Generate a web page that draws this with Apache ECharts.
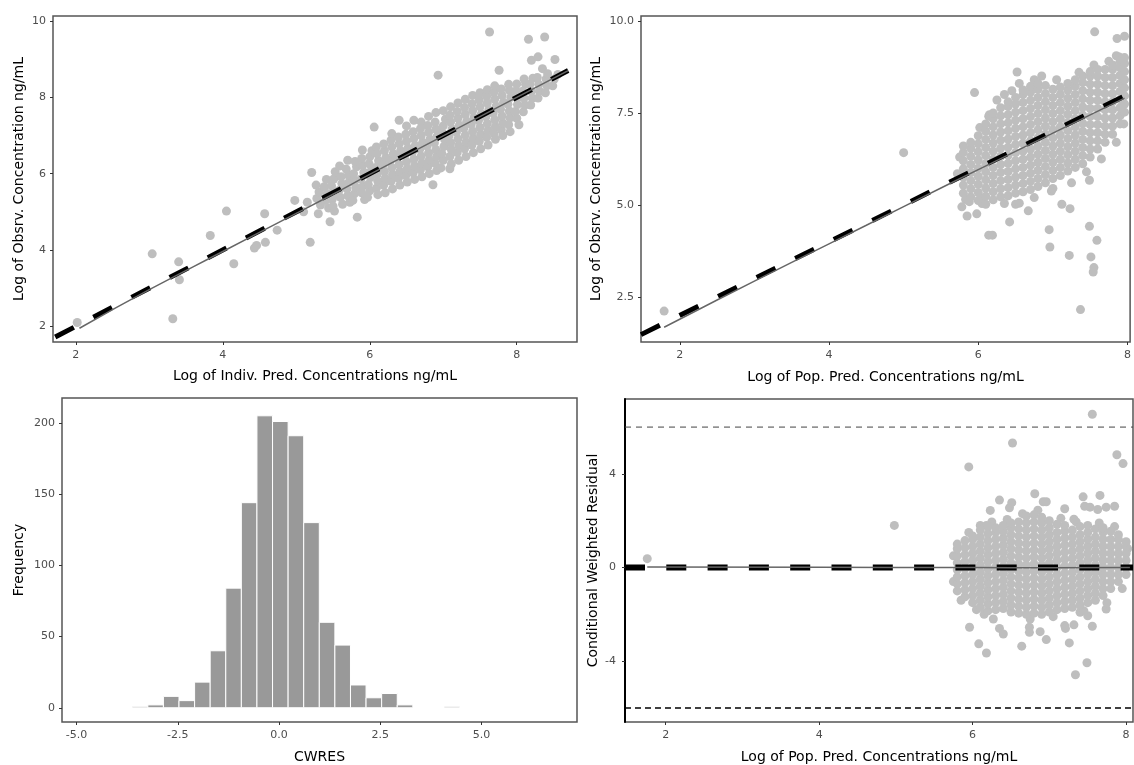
<!DOCTYPE html>
<html><head><meta charset="utf-8">
<script src="https://cdn.jsdelivr.net/npm/echarts@6/dist/echarts.min.js"></script>
<style>html,body{margin:0;padding:0;background:#fff}#c{width:1134px;height:765px}</style>
</head><body><div id="c"></div>
<script>
// ---------- DATA ----------
// Panel 1: IPRED (x) vs observed DV (y)
const ipredDv = [
[2.02,2.1],[3.04,3.9],[3.32,2.2],[3.4,3.69],[3.41,3.22],[3.83,4.38],[4.05,5.02],[4.15,3.64],[4.43,4.05],[4.46,4.12],[4.57,4.95],[4.58,4.2],[4.74,4.52],[4.98,5.3],[5.1,5.0],[5.15,5.25],[5.19,4.2],[5.21,6.03],[5.46,4.74],[5.52,5.02],[5.83,4.86],[6.06,7.22],[6.4,7.4],[6.86,5.71],[6.93,8.58],[7.09,6.13],[7.63,9.71],[7.76,8.71],[8.16,9.52],[8.38,9.58],[8.2,8.97],[8.29,9.06],[8.52,8.99],[8.35,8.75],
[5.28,5.35],[5.31,5.52],[5.27,5.7],[5.33,5.18],[5.3,4.95],
[5.4,5.3],[5.42,5.48],[5.38,5.66],[5.41,5.85],[5.44,5.1],
[5.49,5.33],[5.52,5.5],[5.48,5.68],[5.51,5.86],[5.53,6.05],[5.5,5.15],
[5.6,5.38],[5.58,5.56],[5.62,5.74],[5.61,5.92],[5.59,6.2],[5.63,5.2],
[5.7,5.42],[5.69,5.6],[5.72,5.78],[5.71,5.96],[5.68,6.12],[5.73,5.25],[5.7,6.35],
[5.79,5.47],[5.81,5.64],[5.8,5.82],[5.78,6.0],[5.82,6.18],[5.8,6.32],[5.77,5.3],
[5.89,5.5],[5.91,5.68],[5.88,5.86],[5.92,6.04],[5.9,6.22],[5.89,6.4],[5.93,5.32],[5.9,6.62],
[6.0,5.55],[5.98,5.72],[6.01,5.9],[6.02,6.08],[5.99,6.26],[6.0,6.44],[6.03,6.6],[5.97,5.38],
[6.09,5.62],[6.11,5.8],[6.1,5.98],[6.08,6.16],[6.12,6.34],[6.1,6.52],[6.09,6.7],[6.11,5.45],
[6.19,5.7],[6.21,5.88],[6.2,6.06],[6.18,6.24],[6.22,6.42],[6.2,6.6],[6.19,6.78],[6.21,5.5],
[6.29,5.8],[6.31,5.98],[6.3,6.16],[6.28,6.34],[6.32,6.52],[6.3,6.7],[6.29,6.88],[6.31,5.6],[6.3,7.05],
[6.39,5.88],[6.41,6.06],[6.4,6.24],[6.38,6.42],[6.42,6.6],[6.4,6.78],[6.39,6.96],[6.41,5.7],
[6.49,5.95],[6.51,6.13],[6.5,6.31],[6.48,6.49],[6.52,6.67],[6.5,6.85],[6.49,7.03],[6.51,5.78],[6.5,7.25],
[6.59,6.02],[6.61,6.2],[6.6,6.38],[6.58,6.56],[6.62,6.74],[6.6,6.92],[6.59,7.1],[6.61,5.85],[6.6,7.4],
[6.69,6.1],[6.71,6.28],[6.7,6.46],[6.68,6.64],[6.72,6.82],[6.7,7.0],[6.69,7.18],[6.71,5.92],[6.7,7.35],
[6.79,6.18],[6.81,6.36],[6.8,6.54],[6.78,6.72],[6.82,6.9],[6.8,7.08],[6.79,7.26],[6.81,6.0],[6.8,7.5],
[6.89,6.27],[6.91,6.45],[6.9,6.63],[6.88,6.81],[6.92,6.99],[6.9,7.17],[6.89,7.35],[6.91,6.08],[6.9,7.6],
[7.0,6.35],[6.98,6.53],[7.01,6.71],[7.02,6.89],[6.99,7.07],[7.0,7.25],[7.03,7.43],[6.97,6.15],[7.0,7.65],
[7.09,6.45],[7.11,6.63],[7.1,6.81],[7.08,6.99],[7.12,7.17],[7.1,7.35],[7.09,7.53],[7.11,6.25],[7.1,7.75],
[7.19,6.55],[7.21,6.73],[7.2,6.91],[7.18,7.09],[7.22,7.27],[7.2,7.45],[7.19,7.63],[7.21,6.35],[7.2,7.85],
[7.29,6.65],[7.31,6.83],[7.3,7.01],[7.28,7.19],[7.32,7.37],[7.3,7.55],[7.29,7.73],[7.31,6.45],[7.3,7.95],
[7.39,6.75],[7.41,6.93],[7.4,7.11],[7.38,7.29],[7.42,7.47],[7.4,7.65],[7.39,7.83],[7.41,6.55],[7.4,8.05],
[7.49,6.85],[7.51,7.03],[7.5,7.21],[7.48,7.39],[7.52,7.57],[7.5,7.75],[7.49,7.93],[7.51,6.65],[7.5,8.12],
[7.59,6.95],[7.61,7.13],[7.6,7.31],[7.58,7.49],[7.62,7.67],[7.6,7.85],[7.59,8.03],[7.61,6.75],[7.6,8.2],
[7.69,7.05],[7.71,7.23],[7.7,7.41],[7.68,7.59],[7.72,7.77],[7.7,7.95],[7.69,8.13],[7.71,6.9],[7.7,8.3],
[7.79,7.15],[7.81,7.33],[7.8,7.51],[7.78,7.69],[7.82,7.87],[7.8,8.05],[7.79,8.22],[7.81,7.0],
[7.89,7.28],[7.91,7.46],[7.9,7.64],[7.88,7.82],[7.92,8.0],[7.9,8.18],[7.89,8.34],[7.91,7.1],
[8.0,7.45],[7.98,7.63],[8.01,7.81],[8.02,7.99],[7.99,8.17],[8.0,8.35],[8.03,7.28],
[8.09,7.62],[8.11,7.8],[8.1,7.98],[8.08,8.16],[8.12,8.34],[8.1,8.48],
[8.19,7.8],[8.21,7.98],[8.2,8.16],[8.18,8.34],[8.22,8.5],
[8.29,7.98],[8.31,8.16],[8.3,8.34],[8.28,8.52],
[8.39,8.12],[8.41,8.3],[8.4,8.48],[8.42,8.62],
[8.49,8.3],[8.51,8.48],[8.56,8.6]
];

// Panel 2: PRED (x) vs observed DV (y)
const predDv = [
[1.79,2.12],[5.0,6.42],[5.95,8.05],[6.52,8.61],[6.14,7.41],[7.56,9.7],[7.86,9.52],[7.96,9.58],[7.89,9.02],
[7.37,2.16],[7.54,3.18],[7.55,3.3],[7.51,3.59],[7.59,4.04],[7.49,4.42],[7.22,3.63],[6.96,3.86],[6.95,4.33],
[6.42,4.54],[6.14,4.18],[6.19,4.18],[6.67,4.84],[6.5,5.02],[6.35,5.04],[7.12,5.02],[7.23,4.9],[7.49,5.67],
[6.98,5.38],[5.83,5.15],[5.88,5.09],[5.98,4.76],[6.05,5.04],[6.05,5.17],
[5.72,5.85],[5.75,6.3],[5.78,4.95],[5.85,4.7],[6.02,7.1],[6.15,7.45],[6.25,7.85],[6.35,8.0],[6.45,8.1],
[6.55,8.3],[6.75,8.4],[6.85,8.5],[7.05,8.4],[7.35,8.6],[7.55,8.8],[7.75,8.9],[7.85,9.05],[6.55,5.05],
[6.75,5.2],[7.0,5.45],[7.25,5.6],[7.45,5.9],[7.65,6.25],[7.85,6.7],[7.95,7.2],
[5.8,5.32],[5.8,5.54],[5.8,5.76],[5.8,5.98],[5.8,6.2],[5.8,6.42],[5.8,6.6],
[5.9,5.22],[5.9,5.44],[5.9,5.66],[5.9,5.88],[5.9,6.1],[5.9,6.32],[5.9,6.54],[5.9,6.7],
[6.0,5.12],[6.0,5.34],[6.0,5.56],[6.0,5.78],[6.0,6.0],[6.0,6.22],[6.0,6.44],[6.0,6.66],[6.0,6.88],
[6.1,5.02],[6.1,5.24],[6.1,5.46],[6.1,5.68],[6.1,5.9],[6.1,6.12],[6.1,6.34],[6.1,6.56],[6.1,6.78],[6.1,7.0],[6.1,7.2],
[6.2,5.14],[6.2,5.36],[6.2,5.58],[6.2,5.8],[6.2,6.02],[6.2,6.24],[6.2,6.46],[6.2,6.68],[6.2,6.9],[6.2,7.12],[6.2,7.34],[6.2,7.5],
[6.3,5.22],[6.3,5.44],[6.3,5.66],[6.3,5.88],[6.3,6.1],[6.3,6.32],[6.3,6.54],[6.3,6.76],[6.3,6.98],[6.3,7.2],[6.3,7.42],[6.3,7.64],
[6.4,5.25],[6.4,5.47],[6.4,5.69],[6.4,5.91],[6.4,6.13],[6.4,6.35],[6.4,6.57],[6.4,6.79],[6.4,7.01],[6.4,7.23],[6.4,7.45],[6.4,7.67],[6.4,7.8],
[6.5,5.32],[6.5,5.54],[6.5,5.76],[6.5,5.98],[6.5,6.2],[6.5,6.42],[6.5,6.64],[6.5,6.86],[6.5,7.08],[6.5,7.3],[6.5,7.52],[6.5,7.74],[6.5,7.92],
[6.6,5.36],[6.6,5.58],[6.6,5.8],[6.6,6.02],[6.6,6.24],[6.6,6.46],[6.6,6.68],[6.6,6.9],[6.6,7.12],[6.6,7.34],[6.6,7.56],[6.6,7.78],[6.6,8.0],[6.6,8.12],
[6.7,5.42],[6.7,5.64],[6.7,5.86],[6.7,6.08],[6.7,6.3],[6.7,6.52],[6.7,6.74],[6.7,6.96],[6.7,7.18],[6.7,7.4],[6.7,7.62],[6.7,7.84],[6.7,8.06],[6.7,8.22],
[6.8,5.5],[6.8,5.72],[6.8,5.94],[6.8,6.16],[6.8,6.38],[6.8,6.6],[6.8,6.82],[6.8,7.04],[6.8,7.26],[6.8,7.48],[6.8,7.7],[6.8,7.92],[6.8,8.14],[6.8,8.3],
[6.9,5.6],[6.9,5.82],[6.9,6.04],[6.9,6.26],[6.9,6.48],[6.9,6.7],[6.9,6.92],[6.9,7.14],[6.9,7.36],[6.9,7.58],[6.9,7.8],[6.9,8.02],[6.9,8.24],
[7.0,5.72],[7.0,5.94],[7.0,6.16],[7.0,6.38],[7.0,6.6],[7.0,6.82],[7.0,7.04],[7.0,7.26],[7.0,7.48],[7.0,7.7],[7.0,7.92],[7.0,8.14],
[7.1,5.8],[7.1,6.02],[7.1,6.24],[7.1,6.46],[7.1,6.68],[7.1,6.9],[7.1,7.12],[7.1,7.34],[7.1,7.56],[7.1,7.78],[7.1,8.0],[7.1,8.2],
[7.2,5.92],[7.2,6.14],[7.2,6.36],[7.2,6.58],[7.2,6.8],[7.2,7.02],[7.2,7.24],[7.2,7.46],[7.2,7.68],[7.2,7.9],[7.2,8.12],[7.2,8.3],
[7.3,6.02],[7.3,6.24],[7.3,6.46],[7.3,6.68],[7.3,6.9],[7.3,7.12],[7.3,7.34],[7.3,7.56],[7.3,7.78],[7.3,8.0],[7.3,8.22],[7.3,8.4],
[7.4,6.12],[7.4,6.34],[7.4,6.56],[7.4,6.78],[7.4,7.0],[7.4,7.22],[7.4,7.44],[7.4,7.66],[7.4,7.88],[7.4,8.1],[7.4,8.32],[7.4,8.5],
[7.5,6.3],[7.5,6.52],[7.5,6.74],[7.5,6.96],[7.5,7.18],[7.5,7.4],[7.5,7.62],[7.5,7.84],[7.5,8.06],[7.5,8.28],[7.5,8.5],[7.5,8.62],
[7.6,6.52],[7.6,6.74],[7.6,6.96],[7.6,7.18],[7.6,7.4],[7.6,7.62],[7.6,7.84],[7.6,8.06],[7.6,8.28],[7.6,8.5],[7.6,8.68],
[7.7,6.7],[7.7,6.92],[7.7,7.14],[7.7,7.36],[7.7,7.58],[7.7,7.8],[7.7,8.02],[7.7,8.24],[7.7,8.46],[7.7,8.68],
[7.8,6.92],[7.8,7.14],[7.8,7.36],[7.8,7.58],[7.8,7.8],[7.8,8.02],[7.8,8.24],[7.8,8.46],[7.8,8.68],[7.8,8.8],
[7.9,7.2],[7.9,7.42],[7.9,7.64],[7.9,7.86],[7.9,8.08],[7.9,8.3],[7.9,8.52],[7.9,8.74],[7.9,8.9],
[7.96,7.52],[7.96,7.74],[7.96,7.96],[7.96,8.18],[7.96,8.4],[7.96,8.62],[7.96,8.84],[7.96,9.0]
];

// Panel 3: CWRES histogram (bin lower edges, counts)
const histEdges = [-3.625,-3.24,-2.855,-2.47,-2.085,-1.7,-1.315,-0.93,-0.545,-0.16,0.225,0.61,0.995,1.38,1.765,2.15,2.535,2.92,3.305,3.69,4.075];
const histCounts = [1,2,8,5,18,40,84,144,205,201,191,130,60,44,16,7,10,2,0,0,1];
const histBinWidth = 0.385;

// Panel 4: PRED (x) vs CWRES (y)
const predCwres = [
[1.76,0.38],[4.98,1.8],[5.95,4.3],[6.52,5.32],[7.56,6.55],[7.88,4.82],[7.96,4.44],[6.35,2.88],[6.48,2.55],[6.51,2.77],
[6.23,2.44],[6.81,3.15],[6.92,2.81],[6.96,2.81],[7.2,2.51],[7.32,2.06],[7.44,3.02],[7.66,3.08],[7.46,2.62],[7.53,2.58],
[7.74,2.58],[7.85,2.62],[7.63,2.48],[6.1,1.8],[6.18,1.8],[5.96,-2.55],[6.08,-3.26],[6.18,-3.65],[6.27,-2.2],[6.35,-2.6],
[6.4,-2.84],[6.64,-3.36],[6.74,-2.55],[6.74,-2.77],[6.88,-2.74],[6.96,-3.08],[7.2,-2.48],[7.32,-2.45],[7.21,-2.6],[7.26,-3.22],
[7.49,-4.07],[7.34,-4.58],[7.56,-2.51],[7.74,-1.77],[7.4,-1.91],[7.5,-2.06],
[5.75,0.5],[5.75,-0.6],[5.85,-1.4],[5.95,1.5],[6.05,-1.8],[6.15,-2.0],[6.25,1.95],[6.45,2.05],[6.65,2.3],[6.75,-2.2],
[6.85,2.45],[7.05,-2.1],[7.15,2.1],[7.35,1.95],[7.45,-1.85],[7.65,1.9],[7.75,-1.5],[7.85,1.75],[7.95,-0.9],[8.02,0.8],
[5.8,-1.0],[5.8,-0.7],[5.8,-0.4],[5.8,-0.1],[5.8,0.2],[5.8,0.5],[5.8,0.8],[5.8,1.0],
[5.9,-1.25],[5.9,-0.95],[5.9,-0.65],[5.9,-0.35],[5.9,-0.05],[5.9,0.25],[5.9,0.55],[5.9,0.85],[5.9,1.15],
[6.0,-1.5],[6.0,-1.2],[6.0,-0.9],[6.0,-0.6],[6.0,-0.3],[6.0,0.0],[6.0,0.3],[6.0,0.6],[6.0,0.9],[6.0,1.2],[6.0,1.35],
[6.1,-1.7],[6.1,-1.4],[6.1,-1.1],[6.1,-0.8],[6.1,-0.5],[6.1,-0.2],[6.1,0.1],[6.1,0.4],[6.1,0.7],[6.1,1.0],[6.1,1.3],[6.1,1.6],
[6.2,-1.85],[6.2,-1.55],[6.2,-1.25],[6.2,-0.95],[6.2,-0.65],[6.2,-0.35],[6.2,-0.05],[6.2,0.25],[6.2,0.55],[6.2,0.85],[6.2,1.15],[6.2,1.45],[6.2,1.75],
[6.3,-1.8],[6.3,-1.5],[6.3,-1.2],[6.3,-0.9],[6.3,-0.6],[6.3,-0.3],[6.3,0.0],[6.3,0.3],[6.3,0.6],[6.3,0.9],[6.3,1.2],[6.3,1.5],[6.3,1.7],
[6.4,-1.75],[6.4,-1.45],[6.4,-1.15],[6.4,-0.85],[6.4,-0.55],[6.4,-0.25],[6.4,0.05],[6.4,0.35],[6.4,0.65],[6.4,0.95],[6.4,1.25],[6.4,1.55],[6.4,1.8],
[6.5,-1.9],[6.5,-1.6],[6.5,-1.3],[6.5,-1.0],[6.5,-0.7],[6.5,-0.4],[6.5,-0.1],[6.5,0.2],[6.5,0.5],[6.5,0.8],[6.5,1.1],[6.5,1.4],[6.5,1.7],[6.5,1.9],
[6.6,-1.95],[6.6,-1.65],[6.6,-1.35],[6.6,-1.05],[6.6,-0.75],[6.6,-0.45],[6.6,-0.15],[6.6,0.15],[6.6,0.45],[6.6,0.75],[6.6,1.05],[6.6,1.35],[6.6,1.65],[6.6,1.95],
[6.7,-2.0],[6.7,-1.7],[6.7,-1.4],[6.7,-1.1],[6.7,-0.8],[6.7,-0.5],[6.7,-0.2],[6.7,0.1],[6.7,0.4],[6.7,0.7],[6.7,1.0],[6.7,1.3],[6.7,1.6],[6.7,1.9],[6.7,2.2],
[6.8,-1.95],[6.8,-1.65],[6.8,-1.35],[6.8,-1.05],[6.8,-0.75],[6.8,-0.45],[6.8,-0.15],[6.8,0.15],[6.8,0.45],[6.8,0.75],[6.8,1.05],[6.8,1.35],[6.8,1.65],[6.8,1.95],[6.8,2.25],
[6.9,-2.0],[6.9,-1.7],[6.9,-1.4],[6.9,-1.1],[6.9,-0.8],[6.9,-0.5],[6.9,-0.2],[6.9,0.1],[6.9,0.4],[6.9,0.7],[6.9,1.0],[6.9,1.3],[6.9,1.6],[6.9,1.9],[6.9,2.15],
[7.0,-1.9],[7.0,-1.6],[7.0,-1.3],[7.0,-1.0],[7.0,-0.7],[7.0,-0.4],[7.0,-0.1],[7.0,0.2],[7.0,0.5],[7.0,0.8],[7.0,1.1],[7.0,1.4],[7.0,1.7],[7.0,2.0],
[7.1,-1.8],[7.1,-1.5],[7.1,-1.2],[7.1,-0.9],[7.1,-0.6],[7.1,-0.3],[7.1,0.0],[7.1,0.3],[7.1,0.6],[7.1,0.9],[7.1,1.2],[7.1,1.5],[7.1,1.85],
[7.2,-1.75],[7.2,-1.45],[7.2,-1.15],[7.2,-0.85],[7.2,-0.55],[7.2,-0.25],[7.2,0.05],[7.2,0.35],[7.2,0.65],[7.2,0.95],[7.2,1.25],[7.2,1.55],[7.2,1.8],
[7.3,-1.7],[7.3,-1.4],[7.3,-1.1],[7.3,-0.8],[7.3,-0.5],[7.3,-0.2],[7.3,0.1],[7.3,0.4],[7.3,0.7],[7.3,1.0],[7.3,1.3],[7.3,1.6],
[7.4,-1.6],[7.4,-1.3],[7.4,-1.0],[7.4,-0.7],[7.4,-0.4],[7.4,-0.1],[7.4,0.2],[7.4,0.5],[7.4,0.8],[7.4,1.1],[7.4,1.4],[7.4,1.75],
[7.5,-1.5],[7.5,-1.2],[7.5,-0.9],[7.5,-0.6],[7.5,-0.3],[7.5,0.0],[7.5,0.3],[7.5,0.6],[7.5,0.9],[7.5,1.2],[7.5,1.5],[7.5,1.8],
[7.6,-1.4],[7.6,-1.1],[7.6,-0.8],[7.6,-0.5],[7.6,-0.2],[7.6,0.1],[7.6,0.4],[7.6,0.7],[7.6,1.0],[7.6,1.3],[7.6,1.65],
[7.7,-1.2],[7.7,-0.9],[7.7,-0.6],[7.7,-0.3],[7.7,0.0],[7.7,0.3],[7.7,0.6],[7.7,0.9],[7.7,1.2],[7.7,1.5],[7.7,1.7],
[7.8,-0.9],[7.8,-0.6],[7.8,-0.3],[7.8,0.0],[7.8,0.3],[7.8,0.6],[7.8,0.9],[7.8,1.2],[7.8,1.55],
[7.9,-0.6],[7.9,-0.3],[7.9,0.0],[7.9,0.3],[7.9,0.6],[7.9,0.9],[7.9,1.2],[7.9,1.4],
[8.0,-0.3],[8.0,0.0],[8.0,0.3],[8.0,0.6],[8.0,0.9],[8.0,1.1]
];

// reference / smooth lines
const identity1 = [[1.72,1.72],[8.7,8.7]];
const smooth1 = [[2.05,1.95],[3.0,2.96],[4.0,3.96],[5.0,4.96],[5.5,5.46],[6.0,5.98],[7.0,6.99],[8.0,8.0],[8.7,8.7]];
const identity2 = [[1.48,1.48],[7.96,7.96]];
const smooth2 = [[1.79,1.68],[2.5,2.42],[3.5,3.44],[4.5,4.45],[5.5,5.46],[6.0,5.96],[7.0,6.95],[7.96,7.9]];
const zeroLine4 = [[1.47,0],[8.09,0]];
const smooth4 = [[1.76,0.02],[4.0,0.01],[6.0,0.0],[7.0,-0.01],[8.05,0.0]];
const upperBound4 = [[1.47,6],[8.09,6]];
const lowerBound4 = [[1.47,-6],[8.09,-6]];

// tick labels
const ticks1x = [2,4,6,8], ticks1y = [2,4,6,8,10];
const ticks2x = [2,4,6,8], ticks2y = [2.5,5,7.5,10];
const ticks3x = [-5,-2.5,0,2.5,5], ticks3y = [0,50,100,150,200];
const ticks4x = [2,4,6,8], ticks4y = [-4,0,4];

// ---------- CHART ----------
const FONT = 'DejaVu Sans, Liberation Sans, sans-serif';
const chart = echarts.init(document.getElementById('c'), null, {renderer:'canvas'});

function xAx(i, min, max, ticks, name, gap, fmt) {
  return {
    type:'value', gridIndex:i, min:min, max:max, position:'bottom',
    name:name, nameLocation:'middle', nameGap:gap,
    nameTextStyle:{color:'#000', fontSize:14, fontFamily:FONT},
    axisLine:{show:false, onZero:false},
    axisTick:{show:true, length:3, lineStyle:{color:'#333'}, customValues:ticks},
    axisLabel:{color:'#4d4d4d', fontSize:11, fontFamily:FONT, margin:8, customValues:ticks,
      formatter: fmt || (v => String(v))},
    splitLine:{show:false}
  };
}
function yAx(i, min, max, ticks, name, gap, fmt, line, margin) {
  return {
    type:'value', gridIndex:i, min:min, max:max, position:'left',
    name:name, nameLocation:'middle', nameGap:gap,
    nameTextStyle:{color:'#000', fontSize:14, fontFamily:FONT},
    axisLine: line ? {show:true, onZero:false, lineStyle:{color:'#000', width:2}} : {show:false, onZero:false},
    axisTick:{show:true, length:3, lineStyle:{color:'#333'}, customValues:ticks},
    axisLabel:{color:'#4d4d4d', fontSize:11, fontFamily:FONT, margin:margin || 7, customValues:ticks,
      formatter: fmt || (v => String(v))},
    splitLine:{show:false}
  };
}
const gridStyle = {show:true, borderColor:'#555', borderWidth:1.5, backgroundColor:'#fff'};
const pts = (i, data) => ({type:'scatter', xAxisIndex:i, yAxisIndex:i, data:data, symbolSize:9,
  itemStyle:{color:'#bebebe', opacity:1}, silent:true, z:2});
const ln = (i, data, color, width, type, z, smooth) => ({type:'line', xAxisIndex:i, yAxisIndex:i, data:data,
  showSymbol:false, symbol:'none', smooth:!!smooth, silent:true, z:z,
  lineStyle:{color:color, width:width, type:type, cap:'butt'}});

const histData = histEdges.map((e, k) => [e, e + histBinWidth, histCounts[k]]);

chart.setOption({
  animation:false,
  backgroundColor:'#fff',
  grid:[
    Object.assign({left:53, top:16, width:524, height:326}, gridStyle),
    Object.assign({left:641, top:16, width:490, height:326}, gridStyle),
    Object.assign({left:62, top:398, width:515, height:325}, gridStyle),
    Object.assign({left:625, top:399, width:508, height:324}, gridStyle)
  ],
  xAxis:[
    xAx(0, 1.69, 8.82, ticks1x, 'Log of Indiv. Pred. Concentrations ng/mL', 27),
    xAx(1, 1.48, 8.035, ticks2x, 'Log of Pop. Pred. Concentrations ng/mL', 28),
    xAx(2, -5.36, 7.36, ticks3x, 'CWRES', 28, v => v.toFixed(1)),
    xAx(3, 1.47, 8.09, ticks4x, 'Log of Pop. Pred. Concentrations ng/mL', 28)
  ],
  yAxis:[
    yAx(0, 1.59, 10.13, ticks1y, 'Log of Obsrv. Concentration ng/mL', 27),
    yAx(1, 1.28, 10.13, ticks2y, 'Log of Obsrv. Concentration ng/mL', 38, v => v.toFixed(1)),
    yAx(2, -10, 217.5, ticks3y, 'Frequency', 36),
    yAx(3, -6.6, 7.2, ticks4y, 'Conditional Weighted Residual', 25, null, true, 9)
  ],
  series:[
    pts(0, ipredDv),
    ln(0, identity1, '#000', 5, [21,22], 3),
    ln(0, smooth1, '#666', 1.5, 'solid', 4, true),
    pts(1, predDv),
    ln(1, identity2, '#000', 5, [21,22], 3),
    ln(1, smooth2, '#666', 1.5, 'solid', 4, true),
    {type:'custom', xAxisIndex:2, yAxisIndex:2, data:histData, silent:true,
      encode:{x:[0,1], y:2},
      renderItem:function(params, api){
        if (!(api.value(2) > 0)) return null;
        const p0 = api.coord([api.value(0), api.value(2)]);
        const p1 = api.coord([api.value(1), 0]);
        return {type:'rect', shape:{x:p0[0], y:p0[1], width:p1[0]-p0[0], height:p1[1]-p0[1]},
          style:{fill:'#999999', stroke:'#ffffff', lineWidth:1}};
      }},
    pts(3, predCwres),
    ln(3, upperBound4, '#444', 1, [6,5], 3),
    ln(3, lowerBound4, '#000', 1.6, [6,4], 3),
    ln(3, zeroLine4, '#000', 6, [20,21.3], 3),
    ln(3, smooth4, '#666', 1.5, 'solid', 4, true)
  ]
});
</script>
</body></html>
